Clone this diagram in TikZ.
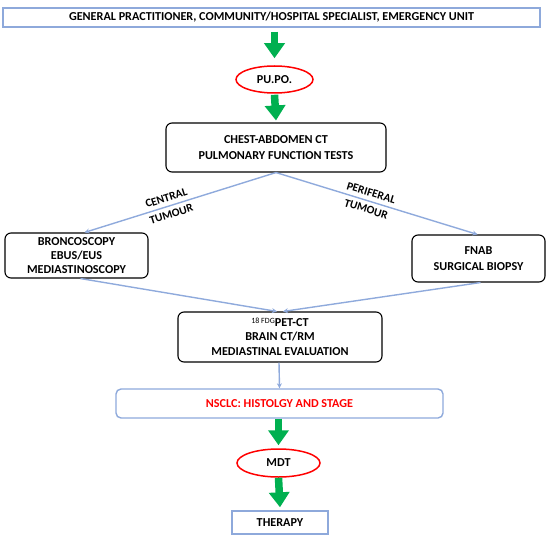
\documentclass[tikz,border=0pt]{standalone}
\usepackage{fontspec}
\setmainfont{Carlito}
\usetikzlibrary{arrows.meta,shapes.geometric,calc}
\definecolor{boxblue}{HTML}{8EA9DB}
\definecolor{lineblue}{HTML}{8FAADC}
\definecolor{arrgreen}{HTML}{00B050}
\definecolor{ovalred}{HTML}{FF0000}
\begin{document}
\begin{tikzpicture}[x=1bp,y=-1bp,
  txt/.style={font=\fontsize{12.2}{16}\selectfont\bfseries, align=center, inner sep=0pt, text=black},
  bluebox/.style={txt, draw=boxblue, line width=1.4bp},
  rbox/.style={txt, draw=black, line width=1.1bp, rounded corners=6bp},
  oval/.style={txt, ellipse, draw=ovalred, line width=1.5bp},
  garrow/.style={draw=arrgreen, line width=7.5bp, -{Triangle[width=20bp,length=15bp]}},
  bline/.style={draw=lineblue, line width=1.4bp, -{Stealth[length=5bp,width=5bp]}},
  blabel/.style={font=\fontsize{11.5}{17}\selectfont\bfseries, align=center, inner sep=0pt, sloped}
]
\useasboundingbox (0,0) rectangle (550,541);

\node[bluebox, minimum width=537bp, minimum height=19bp] (top) at (271.5,17.5)
  {GENERAL PRACTITIONER, COMMUNITY/HOSPITAL SPECIALIST, EMERGENCY UNIT};
\node[oval, minimum width=77bp, minimum height=27bp] (pupo) at (274.5,79.5) {PU.PO.};
\node[rbox, minimum width=220bp, minimum height=49bp] (chest) at (276,147.5)
  {CHEST-ABDOMEN CT\\PULMONARY FUNCTION TESTS};
\node[rbox, minimum width=143bp, minimum height=45bp] (bronco) at (76.5,255.5)
  {BRONCOSCOPY\\[-1.5bp]EBUS/EUS\\[-1.5bp]MEDIASTINOSCOPY};
\node[rbox, minimum width=133bp, minimum height=47bp] (fnab) at (478.5,258.5)
  {FNAB\\SURGICAL BIOPSY};
\node[rbox, minimum width=204bp, minimum height=50bp] (pet) at (280,337)
  {{\fontsize{8}{8}\selectfont\mdseries\raisebox{2.5bp}{18 FDG}}PET-CT\\[-1bp]BRAIN CT/RM\\[-1bp]MEDIASTINAL EVALUATION};
\node[bluebox, rounded corners=5bp, minimum width=327bp, minimum height=29bp] (nsclc) at (279.5,403.5)
  {\color{ovalred}NSCLC: HISTOLGY AND STAGE};
\node[oval, minimum width=83bp, minimum height=28bp] (mdt) at (278.5,463) {MDT};
\node[bluebox, minimum width=96bp, minimum height=23bp] (therapy) at (280,522.5) {THERAPY};

% green arrows
\draw[garrow] ($(pupo.north|-top.south)+(0,4)$) -- ($(pupo.north)+(0,-7)$);
\draw[garrow] ($(pupo.south)+(0,1)$) -- ($(chest.north)+(0,-2)$);
\draw[garrow] ($(mdt.north|-nsclc.south)+(0,0)$) -- ($(mdt.north)+(0,-3)$);
\draw[garrow] ($(mdt.south)+(0,0)$) -- ($(therapy.north)+(0,-3)$);

% blue lines
\draw[bline] (chest.south) -- ($(bronco.north)+(8,0)$)
  node[blabel, pos=0.56] {CENTRAL\\TUMOUR};
\draw[bline] (chest.south) -- ($(fnab.north)+(-1,0)$)
  node[blabel, pos=0.46] {PERIFERAL\\TUMOUR};
\draw[bline] ($(bronco.south)+(4,0)$) -- ($(pet.north)+(-3,0)$);
\draw[bline] ($(fnab.south)+(2,0)$) -- ($(pet.north)+(3,0)$);
\draw[bline] ($(pet.south)+(-1,0)$) -- (nsclc.north);
\end{tikzpicture}
\end{document}
